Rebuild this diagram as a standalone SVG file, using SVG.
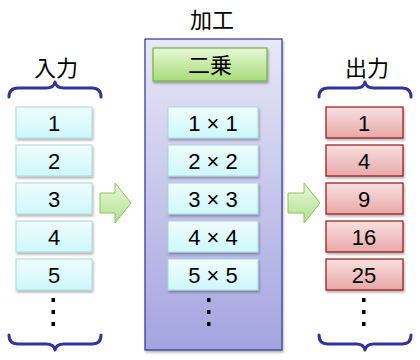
<svg xmlns="http://www.w3.org/2000/svg" width="420" height="360" viewBox="0 0 420 360">
<defs>
<linearGradient id="gBlue" x1="0" y1="0" x2="0" y2="1"><stop offset="0" stop-color="#f0fcfd"/><stop offset="1" stop-color="#cdf8fb"/></linearGradient>
<linearGradient id="gRed" x1="0" y1="0" x2="0" y2="1"><stop offset="0" stop-color="#f8e0e0"/><stop offset="1" stop-color="#e8a8a8"/></linearGradient>
<linearGradient id="gGreen" x1="0" y1="0" x2="0" y2="1"><stop offset="0" stop-color="#e6f8d8"/><stop offset="1" stop-color="#a8dc78"/></linearGradient>
<linearGradient id="gPanel" x1="0" y1="0" x2="0" y2="1"><stop offset="0" stop-color="#e8e8f6"/><stop offset="1" stop-color="#a4a4e0"/></linearGradient>
<linearGradient id="gArrow" x1="0" y1="0" x2="0" y2="1"><stop offset="0" stop-color="#eaf8dc"/><stop offset="1" stop-color="#b0e08a"/></linearGradient>
<filter id="sh" x="-10%" y="-10%" width="130%" height="140%"><feDropShadow dx="1" dy="2" stdDeviation="1" flood-color="#000" flood-opacity="0.3"/></filter>
</defs>
<style>
text{font-family:"Liberation Sans","Noto Sans CJK JP",sans-serif;fill:#000;text-anchor:middle}
.num{font-size:22px}
.ttl{font-size:22px}
.bb{fill:url(#gBlue);stroke:#a8d8dc;stroke-width:1;filter:url(#sh)}
.rb{fill:url(#gRed);stroke:#9a1010;stroke-width:1.2;filter:url(#sh)}
.brace{fill:none;stroke:#333399;stroke-width:3;stroke-linecap:round;stroke-linejoin:round}
.dot{fill:#000}
.arr{fill:url(#gArrow);stroke:#8cc060;stroke-width:1}
</style>

<g id="input">
<text class="ttl" x="56" y="76">入力</text>
<path class="brace" d="M9,97 Q9,88 18,88 L46,88 Q54,88 55,82 Q56,88 64,88 L92,88 Q101,88 101,97"/>
<g id="in1"><rect class="bb" x="16" y="107" width="76" height="31"/><text class="num" x="54" y="130.5">1</text></g>
<g id="in2"><rect class="bb" x="16" y="145" width="76" height="31"/><text class="num" x="54" y="168.5">2</text></g>
<g id="in3"><rect class="bb" x="16" y="183" width="76" height="31"/><text class="num" x="54" y="206.5">3</text></g>
<g id="in4"><rect class="bb" x="16" y="221" width="76" height="31"/><text class="num" x="54" y="244.5">4</text></g>
<g id="in5"><rect class="bb" x="16" y="259" width="76" height="31"/><text class="num" x="54" y="282.5">5</text></g>
<rect class="dot" x="51.5" y="298" width="3.5" height="4"/><rect class="dot" x="51.5" y="310" width="3.5" height="4"/><rect class="dot" x="51.5" y="322" width="3.5" height="4"/>
<path class="brace" d="M9,335 Q9,344 18,344 L46,344 Q54,344 55,350 Q56,344 64,344 L92,344 Q101,344 101,335"/>
</g>

<g id="process">
<text class="ttl" x="212" y="28">加工</text>
<rect x="145" y="39" width="137" height="311" fill="url(#gPanel)" stroke="#333399" stroke-width="1.2" filter="url(#sh)"/>
<g id="square"><rect x="153" y="48" width="114" height="33" fill="url(#gGreen)" stroke="#78b040" stroke-width="1.2" filter="url(#sh)"/><text class="ttl" x="210" y="72.5">二乗</text></g>
<g id="p1"><rect class="bb" x="168" y="107" width="90" height="31"/><text class="num" x="213" y="130.5">1 × 1</text></g>
<g id="p2"><rect class="bb" x="168" y="145" width="90" height="31"/><text class="num" x="213" y="168.5">2 × 2</text></g>
<g id="p3"><rect class="bb" x="168" y="183" width="90" height="31"/><text class="num" x="213" y="206.5">3 × 3</text></g>
<g id="p4"><rect class="bb" x="168" y="221" width="90" height="31"/><text class="num" x="213" y="244.5">4 × 4</text></g>
<g id="p5"><rect class="bb" x="168" y="259" width="90" height="31"/><text class="num" x="213" y="282.5">5 × 5</text></g>
<rect class="dot" x="207" y="298" width="3.5" height="4"/><rect class="dot" x="207" y="310" width="3.5" height="4"/><rect class="dot" x="207" y="322" width="3.5" height="4"/>
</g>

<g id="output">
<text class="ttl" x="367" y="76">出力</text>
<path class="brace" d="M319,97 Q319,88 328,88 L356,88 Q364,88 365,82 Q366,88 374,88 L402,88 Q411,88 411,97"/>
<g id="o1"><rect class="rb" x="326" y="107" width="77" height="31"/><text class="num" x="364" y="130.5">1</text></g>
<g id="o2"><rect class="rb" x="326" y="145" width="77" height="31"/><text class="num" x="364" y="168.5">4</text></g>
<g id="o3"><rect class="rb" x="326" y="183" width="77" height="31"/><text class="num" x="364" y="206.5">9</text></g>
<g id="o4"><rect class="rb" x="326" y="221" width="77" height="31"/><text class="num" x="364" y="244.5">16</text></g>
<g id="o5"><rect class="rb" x="326" y="259" width="77" height="31"/><text class="num" x="364" y="282.5">25</text></g>
<rect class="dot" x="362" y="298" width="3.5" height="4"/><rect class="dot" x="362" y="310" width="3.5" height="4"/><rect class="dot" x="362" y="322" width="3.5" height="4"/>
<path class="brace" d="M319,335 Q319,344 328,344 L356,344 Q364,344 365,350 Q366,344 374,344 L402,344 Q411,344 411,335"/>
</g>

<g id="connectors">
<path class="arr" d="M100,193 L115,193 L115,183 L131,203 L115,223 L115,213 L100,213 Z"/>
<path class="arr" d="M288,193 L304,193 L304,183 L320,203 L304,223 L304,213 L288,213 Z"/>
</g>
</svg>
